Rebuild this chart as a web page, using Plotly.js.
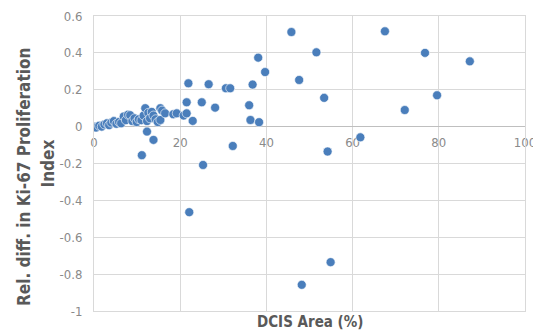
<!DOCTYPE html>
<html>
<head>
<meta charset="utf-8">
<script src="https://cdn.plot.ly/plotly-3.0.1.min.js"></script>
<style>html,body{margin:0;padding:0;background:#fff;}#chart{width:533px;height:332px;}</style>
</head>
<body>
<div id="chart"></div>
<script>
// DCIS Area (%)
var dcisArea = [
  0.0, 0.5, 1.2, 1.8, 2.4, 3.0, 3.5, 4.0, 4.6, 5.2, 5.8, 6.3, 6.9, 7.4, 7.9, 8.4, 8.9, 9.4, 9.9, 10.4,
  11.0, 11.5, 11.9, 12.3, 12.6, 13.0, 13.4, 13.8, 14.3, 14.8, 15.4, 15.4, 15.8, 16.5, 18.4, 19.2, 20.8, 21.5, 21.5, 22.9,
  12.3, 13.8, 11.1,
  21.9, 26.6, 30.6, 25.0, 28.1,
  45.8, 67.5, 51.6, 76.8, 38.1, 87.2, 39.7, 47.6, 36.8, 31.6, 53.4, 79.6, 36.0, 72.1, 36.3, 38.3,
  61.8, 32.2, 54.2, 25.3, 22.1, 54.9, 48.2
];
// Relative difference in Ki-67 proliferation index
var relDiff = [
  0.000, -0.005, 0.005, 0.000, 0.012, 0.018, 0.008, 0.022, 0.030, 0.015, 0.025, 0.018, 0.055, 0.035, 0.065, 0.062, 0.030, 0.045, 0.025, 0.040,
  0.035, 0.060, 0.100, 0.030, 0.075, 0.045, 0.080, 0.060, 0.040, 0.025, 0.100, 0.036, 0.087, 0.072, 0.067, 0.072, 0.060, 0.072, 0.132, 0.031,
  -0.027, -0.072, -0.155,
  0.235, 0.230, 0.208, 0.132, 0.103,
  0.513, 0.517, 0.403, 0.400, 0.374, 0.354, 0.296, 0.253, 0.228, 0.208, 0.156, 0.170, 0.116, 0.090, 0.036, 0.024,
  -0.058, -0.105, -0.135, -0.208, -0.464, -0.735, -0.858
];
var xTickVals = [0, 20, 40, 60, 80, 100];
var yTickVals = [-1, -0.8, -0.6, -0.4, -0.2, 0, 0.2, 0.4, 0.6];
var yTickText = ['-1', '-0.8', '-0.6', '-0.4', '-0.2', '0', '0.2', '0.4', '0.6'];
var xTitle = 'DCIS Area (%)';
var yTitleLine1 = 'Rel. diff. in Ki-67 Proliferation';
var yTitleLine2 = 'Index';

var yMin = -1, yMax = 0.6;
var grid = '#d9d9d9';
var tickFont = {family: 'DejaVu Sans Condensed', size: 13, color: '#8a8a8a'};
var titleFont = {family: 'DejaVu Sans Condensed', size: 15, color: '#595959', weight: 700};
var yTitleFont = {family: 'DejaVu Sans Condensed', size: 17, color: '#595959', weight: 700};

var trace = {
  x: dcisArea, y: relDiff, type: 'scatter', mode: 'markers',
  marker: {size: 9, color: '#4a7ebb', line: {width: 0.6, color: '#ffffff'}},
  xaxis: 'x', yaxis: 'y', hoverinfo: 'x+y'
};
// helper invisible trace so the zero-positioned tick-label axis is drawn
var trace2 = {x: [0], y: [0], type: 'scatter', mode: 'markers', marker: {opacity: 0}, xaxis: 'x2', yaxis: 'y', hoverinfo: 'skip', showlegend: false};

var layout = {
  width: 533, height: 332,
  margin: {l: 94, r: 8, t: 16, b: 21},
  paper_bgcolor: '#ffffff', plot_bgcolor: '#ffffff',
  showlegend: false,
  xaxis: {
    range: [0, 100], tickvals: xTickVals, showticklabels: false,
    showgrid: true, gridcolor: grid, gridwidth: 1,
    zeroline: false, showline: true, linecolor: grid, linewidth: 1, mirror: true,
    fixedrange: true
  },
  xaxis2: {
    overlaying: 'x', matches: 'x', anchor: 'free', position: (0 - yMin) / (yMax - yMin),
    range: [0, 100], tickvals: xTickVals, showgrid: false, zeroline: false, showline: false,
    ticks: '', tickfont: tickFont, ticklabelstandoff: 6, ticklabeloverflow: 'allow',
    layer: 'below traces', fixedrange: true
  },
  yaxis: {
    range: [yMin, yMax], tickvals: yTickVals, ticktext: yTickText,
    showgrid: true, gridcolor: grid, gridwidth: 1,
    zeroline: true, zerolinecolor: '#bfbfbf', zerolinewidth: 1.3,
    showline: true, linecolor: grid, linewidth: 1, mirror: true,
    ticks: '', tickfont: tickFont, ticklabelstandoff: 8, fixedrange: true
  },
  annotations: [
    {text: xTitle, xref: 'paper', yref: 'paper', x: 0.5, y: -0.037, xanchor: 'center', yanchor: 'middle', showarrow: false, font: titleFont},
    {text: yTitleLine1, xref: 'paper', yref: 'paper', x: -0.162, y: 0.455, xanchor: 'center', yanchor: 'middle', textangle: -90, showarrow: false, font: yTitleFont},
    {text: yTitleLine2, xref: 'paper', yref: 'paper', x: -0.109, y: 0.50, xanchor: 'center', yanchor: 'middle', textangle: -90, showarrow: false, font: yTitleFont}
  ]
};
Plotly.newPlot('chart', [trace, trace2], layout, {displayModeBar: false, staticPlot: true});
</script>
</body>
</html>
